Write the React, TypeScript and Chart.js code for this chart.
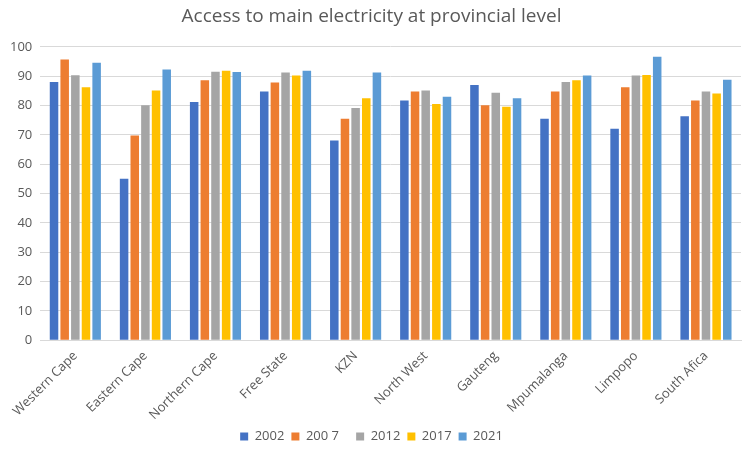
import React, { useEffect, useRef } from "react";
import { Chart, registerables } from "chart.js";

Chart.register(...registerables);

const categories = [
  "Western Cape",
  "Eastern Cape",
  "Northern Cape",
  "Free State",
  "KZN",
  "North West",
  "Gauteng",
  "Mpumalanga",
  "Limpopo",
  "South Afica",
];
const seriesLabels = ["2002", "200 7   ", "2012", "2017", "2021"];
const s2002 = [88.0, 55.0, 81.2, 84.8, 68.1, 81.7, 87.0, 75.5, 72.1, 76.3];
const s2007 = [95.7, 69.8, 88.6, 87.8, 75.5, 84.8, 80.1, 84.8, 86.2, 81.7];
const s2012 = [90.3, 80.1, 91.5, 91.2, 79.1, 85.1, 84.3, 88.0, 90.2, 84.8];
const s2017 = [86.2, 85.1, 91.8, 90.2, 82.5, 80.5, 79.6, 88.6, 90.4, 84.1];
const s2021 = [94.6, 92.3, 91.4, 91.8, 91.2, 83.0, 82.5, 90.2, 96.6, 88.8];
const colors = ["#4472C4", "#ED7D31", "#A5A5A5", "#FFC000", "#5B9BD5"];

export default function App() {
  const ref = useRef<HTMLCanvasElement>(null);
  useEffect(() => {
    if (!ref.current) return;
    const data = [s2002, s2007, s2012, s2017, s2021];
    const font = "'Open Sans', 'Noto Sans', sans-serif";
    const chart = new Chart(ref.current, {
      type: "bar",
      data: {
        labels: categories,
        datasets: data.map((d, i) => ({
          label: seriesLabels[i],
          data: d,
          backgroundColor: colors[i],
          borderWidth: 0,
          categoryPercentage: 0.76,
          barPercentage: 0.8,
        })),
      },
      options: {
        responsive: false,
        animation: false,
        layout: { padding: { left: 2, right: 4, top: 0, bottom: 0 } },
        plugins: {
          title: {
            display: true,
            text: "Access to main electricity at provincial level",
            color: "#595959",
            font: { family: font, size: 19, weight: "normal" },
            padding: { top: 5, bottom: 19 },
          },
          legend: {
            position: "bottom",
            labels: {
              boxWidth: 8,
              boxHeight: 8,
              color: "#595959",
              font: { family: font, size: 13 },
              padding: 7,
            },
          },
          tooltip: { enabled: false },
        },
        scales: {
          x: {
            grid: { display: false },
            border: { display: true, color: "#d9d9d9" },
            ticks: {
              color: "#595959",
              font: { family: font, size: 13 },
              minRotation: 45,
              maxRotation: 45,
              autoSkip: false,
              padding: 0,
            },
          },
          y: {
            min: 0,
            max: 100,
            grid: { color: "#d9d9d9", drawTicks: false },
            border: { display: false },
            ticks: {
              stepSize: 10,
              color: "#595959",
              font: { family: font, size: 13 },
              padding: 8,
            },
          },
        },
      },
    });
    return () => chart.destroy();
  }, []);
  return (
    <div style={{ position: "absolute", left: 0, top: 0, width: 745, height: 453, background: "#fff" }}>
      <canvas ref={ref} width={745} height={453} />
    </div>
  );
}
